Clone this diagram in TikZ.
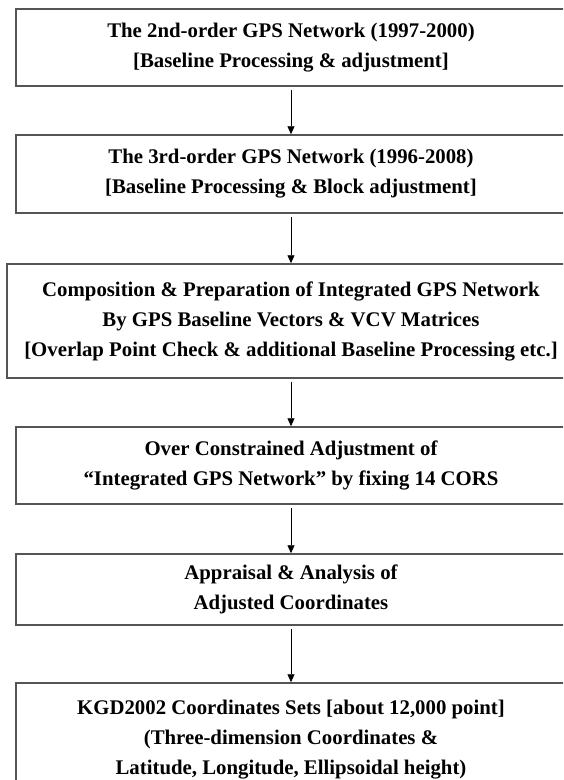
\documentclass[tikz,border=0pt]{standalone}
\usepackage{fontspec}
\setmainfont{Liberation Serif}
\usepackage{xcolor}
\usetikzlibrary{arrows.meta, positioning}
\definecolor{boxgray}{RGB}{85, 85, 85}

\begin{document}
\begin{tikzpicture}[
    x=1pt, y=-1pt,
    stage/.style={draw=boxgray, line width=1.5pt, align=center, inner sep=0pt,
                  minimum width=550pt, font=\fontsize{20.8}{30}\selectfont\bfseries},
    arrow/.style={-{Triangle[length=8pt, width=7pt]}, line width=0.9pt, black, shorten <=3pt}
]
\useasboundingbox (0,0) rectangle (563,780);
\clip (0,0) rectangle (563,780);

% Stage 1: 2nd-order network
\node[stage, minimum height=77pt] (s1) at (291,47.5)
    {The 2nd-order GPS Network (1997-2000)\\{}[Baseline Processing \& adjustment]};

% Stage 2: 3rd-order network
\node[stage, minimum height=78pt] (s2) at (291,174)
    {The 3rd-order GPS Network (1996-2008)\\{}[Baseline Processing \& Block adjustment]};

% Stage 3: integration
\node[stage, minimum width=568pt, minimum height=114pt] (s3) at (291,321)
    {Composition \& Preparation of Integrated GPS Network\\By GPS Baseline Vectors \& VCV Matrices\\{}[Overlap Point Check \& additional Baseline Processing etc.]};

% Stage 4: adjustment
\node[stage, minimum height=77pt] (s4) at (291,465.5)
    {Over Constrained Adjustment of\\``Integrated GPS Network'' by fixing 14 CORS};

% Stage 5: appraisal
\node[stage, minimum height=71pt] (s5) at (291,589.5)
    {Appraisal \& Analysis of\\Adjusted Coordinates};

% Stage 6: result
\node[stage, minimum height=114pt] (s6) at (291,740)
    {KGD2002 Coordinates Sets [about 12,000 point]\\(Three-dimension Coordinates \&\\Latitude, Longitude, Ellipsoidal height)};

% Arrows
\draw[arrow] (s1) -- (s2);
\draw[arrow] (s2) -- (s3);
\draw[arrow] (s3) -- (s4);
\draw[arrow] (s4) -- (s5);
\draw[arrow] (s5) -- (s6);

\end{tikzpicture}
\end{document}
